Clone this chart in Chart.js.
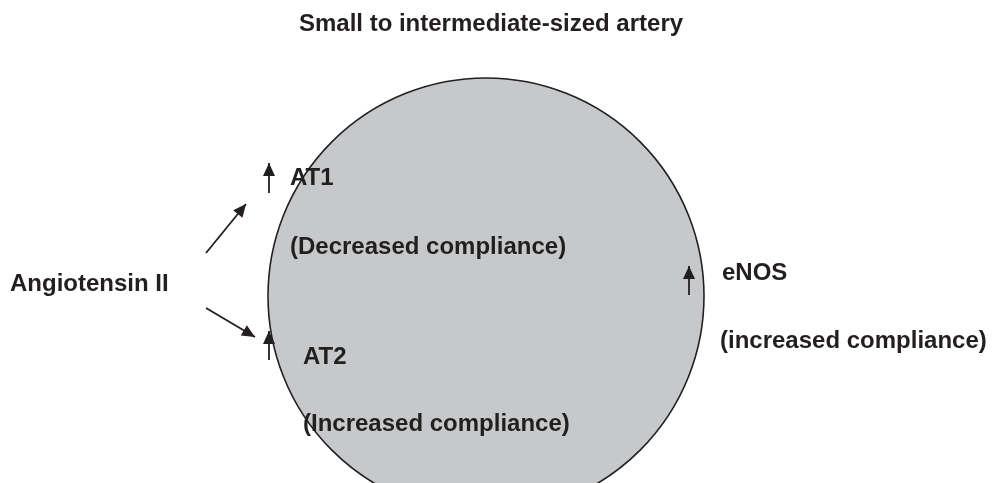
<!DOCTYPE html>
<html>
<head>
<meta charset="utf-8">
<style>
  html, body { margin: 0; padding: 0; background: #fff; }
  canvas { display: block; }
</style>
<script src="https://cdn.jsdelivr.net/npm/chart.js@4/dist/chart.umd.min.js"></script>
</head>
<body>
<canvas id="diagram" width="992" height="483"></canvas>
<script>
// ── Diagram data (page pixel units, y grows downward) ─────────
const titleText = 'Small to intermediate-sized artery';
const titlePoint = { x: 491, y: 24 };

const labelTexts  = ['AT1', '(Decreased compliance)', 'Angiotensin II', 'eNOS',
                     '(increased compliance)', 'AT2', '(Increased compliance)'];
const labelPoints = [{ x: 290, y: 178 }, { x: 290, y: 247 }, { x: 10, y: 284 }, { x: 722, y: 273 },
                     { x: 720, y: 341 }, { x: 303, y: 357 }, { x: 303, y: 424 }];

const vessel = [{ x: 486, y: 296, r: 218 }];

const arrowAT1Up   = [{ x: 269, y: 193 }, { x: 269, y: 163 }];
const arrowToAT1   = [{ x: 206, y: 253 }, { x: 246, y: 204 }];
const arrowToAT2   = [{ x: 206, y: 308 }, { x: 255, y: 337 }];
const arrowAT2Up   = [{ x: 269, y: 360 }, { x: 269, y: 331 }];
const arrowENOSUp  = [{ x: 689, y: 295 }, { x: 689, y: 266 }];

const INK  = '#231f20';
const FONT = 'bold 24px "Liberation Sans", Arial, sans-serif';

// ── Arrowheads + text, drawn through the scales ───────────────
const annotate = {
  id: 'annotate',
  afterDatasetsDraw(chart) {
    const { ctx, scales: { x, y } } = chart;
    ctx.save();
    ctx.fillStyle = INK;

    chart.data.datasets.forEach((ds) => {
      if (!ds.arrow) return;
      const a = ds.data[ds.data.length - 2];
      const b = ds.data[ds.data.length - 1];
      const x1 = x.getPixelForValue(a.x), y1 = y.getPixelForValue(a.y);
      const x2 = x.getPixelForValue(b.x), y2 = y.getPixelForValue(b.y);
      const ang = Math.atan2(y2 - y1, x2 - x1);
      const len = 13, half = 6;
      ctx.beginPath();
      ctx.moveTo(x2, y2);
      ctx.lineTo(x2 - len * Math.cos(ang) + half * Math.sin(ang), y2 - len * Math.sin(ang) - half * Math.cos(ang));
      ctx.lineTo(x2 - len * Math.cos(ang) - half * Math.sin(ang), y2 - len * Math.sin(ang) + half * Math.cos(ang));
      ctx.closePath();
      ctx.fill();
    });

    ctx.font = FONT;
    ctx.textBaseline = 'middle';
    ctx.textAlign = 'center';
    ctx.fillText(titleText, x.getPixelForValue(titlePoint.x), y.getPixelForValue(titlePoint.y));
    ctx.textAlign = 'left';
    labelTexts.forEach((t, i) => {
      ctx.fillText(t, x.getPixelForValue(labelPoints[i].x), y.getPixelForValue(labelPoints[i].y));
    });
    ctx.restore();
  },
};

// lower "order" draws on top, so arrows sit over the vessel
function arrowSet(points) {
  return {
    type: 'scatter',
    data: points,
    order: 0,
    showLine: true,
    arrow: true,
    borderColor: INK,
    borderWidth: 1.8,
    pointRadius: 0,
    fill: false,
  };
}

new Chart(document.getElementById('diagram'), {
  type: 'scatter',
  plugins: [annotate],
  data: {
    datasets: [
      {
        type: 'bubble',
        data: vessel,
        order: 10,
        backgroundColor: '#c7c8ca',
        borderColor: INK,
        borderWidth: 1.6,
        hoverRadius: 0,
      },
      arrowSet(arrowAT1Up),
      arrowSet(arrowToAT1),
      arrowSet(arrowToAT2),
      arrowSet(arrowAT2Up),
      arrowSet(arrowENOSUp),
    ],
  },
  options: {
    responsive: false,
    animation: false,
    events: [],
    layout: { padding: 0, autoPadding: false },
    plugins: { legend: { display: false }, tooltip: { enabled: false } },
    scales: {
      x: { type: 'linear', min: 0, max: 992, display: false },
      y: { type: 'linear', min: 0, max: 483, reverse: true, display: false },
    },
  },
});
</script>
</body>
</html>
